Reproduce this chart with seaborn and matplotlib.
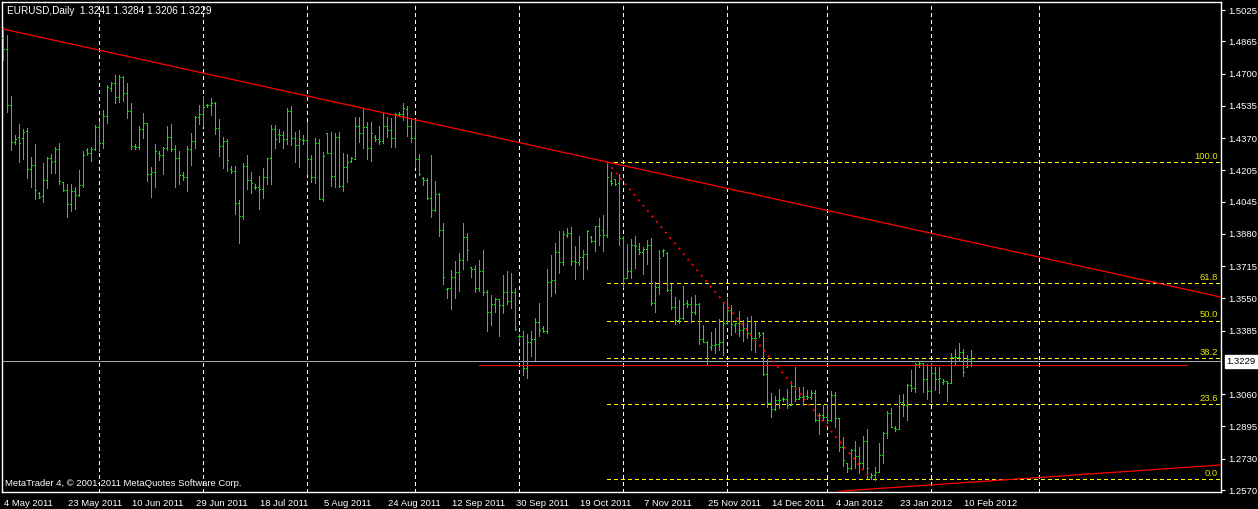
import numpy as np
import pandas as pd
import matplotlib
matplotlib.use("Agg")
import matplotlib.pyplot as plt
import matplotlib.transforms as mtransforms
import seaborn as sns

# ---------------- data (EURUSD daily OHLC) ----------------
opens = [1.4880, 1.4824, 1.4537, 1.4348, 1.4374, 1.4369, 1.4408, 1.4210, 1.4232, 1.4087,
         1.4074, 1.4154, 1.4268, 1.4251, 1.4313, 1.4144, 1.4103, 1.4033, 1.4098, 1.4081,
         1.4130, 1.4309, 1.4294, 1.4313, 1.4425, 1.4343, 1.4481, 1.4625, 1.4650, 1.4578,
         1.4684, 1.4599, 1.4507, 1.4331, 1.4326, 1.4415, 1.4445, 1.4185, 1.4195, 1.4292,
         1.4283, 1.4321, 1.4374, 1.4313, 1.4270, 1.4181, 1.4169, 1.4314, 1.4353, 1.4476,
         1.4491, 1.4537, 1.4537, 1.4548, 1.4420, 1.4328, 1.4357, 1.4212, 1.4200, 1.4036,
         1.3970, 1.4225, 1.4154, 1.4121, 1.4120, 1.4109, 1.4169, 1.4266, 1.4415, 1.4391,
         1.4384, 1.4364, 1.4507, 1.4369, 1.4333, 1.4360, 1.4360, 1.4261, 1.4173, 1.4343,
         1.4060, 1.4394, 1.4292, 1.4174, 1.4374, 1.4123, 1.4224, 1.4253, 1.4265, 1.4432,
         1.4394, 1.4425, 1.4317, 1.4374, 1.4364, 1.4357, 1.4430, 1.4410, 1.4369, 1.4493,
         1.4493, 1.4519, 1.4430, 1.4369, 1.4261, 1.4164, 1.4154, 1.4062, 1.4001, 1.4086,
         1.3898, 1.3598, 1.3602, 1.3658, 1.3683, 1.3745, 1.3862, 1.3709, 1.3700, 1.3602,
         1.3690, 1.3581, 1.3479, 1.3522, 1.3547, 1.3515, 1.3581, 1.3535, 1.3581, 1.3359,
         1.3356, 1.3196, 1.3325, 1.3341, 1.3428, 1.3397, 1.3383, 1.3632, 1.3643, 1.3786,
         1.3735, 1.3874, 1.3885, 1.3741, 1.3738, 1.3760, 1.3776, 1.3862, 1.3844, 1.3919,
         1.3900, 1.3873, 1.4152, 1.4159, 1.4139, 1.3857, 1.3654, 1.3688, 1.3821, 1.3804,
         1.3786, 1.3801, 1.3821, 1.3525, 1.3607, 1.3793, 1.3784, 1.3593, 1.3505, 1.3440,
         1.3452, 1.3525, 1.3520, 1.3480, 1.3520, 1.3342, 1.3329, 1.3303, 1.3313, 1.3317,
         1.3325, 1.3423, 1.3491, 1.3414, 1.3423, 1.3388, 1.3397, 1.3371, 1.3348, 1.3371,
         1.3371, 1.3162, 1.3013, 1.2983, 1.3031, 1.3037, 1.3037, 1.3005, 1.3102, 1.3037,
         1.3044, 1.3053, 1.3044, 1.3068, 1.2928, 1.2954, 1.2945, 1.2928, 1.3056, 1.2937,
         1.2792, 1.2707, 1.2681, 1.2775, 1.2744, 1.2710, 1.2819, 1.2638, 1.2645, 1.2664,
         1.2749, 1.2863, 1.2966, 1.2887, 1.2882, 1.3022, 1.3005, 1.3105, 1.3090, 1.3215,
         1.3218, 1.3140, 1.3077, 1.3167, 1.3140, 1.3124, 1.3129, 1.3116, 1.3249, 1.3249,
         1.3278, 1.3201, 1.3241]
highs = [1.4940, 1.4897, 1.4585, 1.4386, 1.4442, 1.4416, 1.4422, 1.4273, 1.4340, 1.4093,
         1.4241, 1.4273, 1.4287, 1.4326, 1.4345, 1.4147, 1.4135, 1.4135, 1.4120, 1.4207,
         1.4304, 1.4318, 1.4324, 1.4437, 1.4457, 1.4514, 1.4641, 1.4655, 1.4691, 1.4693,
         1.4688, 1.4652, 1.4549, 1.4340, 1.4430, 1.4497, 1.4445, 1.4222, 1.4340, 1.4304,
         1.4323, 1.4432, 1.4440, 1.4333, 1.4306, 1.4197, 1.4329, 1.4396, 1.4481, 1.4539,
         1.4585, 1.4544, 1.4573, 1.4553, 1.4468, 1.4375, 1.4365, 1.4227, 1.4227, 1.4053,
         1.4242, 1.4283, 1.4196, 1.4133, 1.4178, 1.4217, 1.4268, 1.4437, 1.4437, 1.4416,
         1.4406, 1.4524, 1.4534, 1.4401, 1.4411, 1.4384, 1.4452, 1.4283, 1.4370, 1.4365,
         1.4297, 1.4396, 1.4401, 1.4396, 1.4401, 1.4295, 1.4289, 1.4275, 1.4476, 1.4476,
         1.4519, 1.4452, 1.4452, 1.4384, 1.4432, 1.4500, 1.4476, 1.4474, 1.4498, 1.4503,
         1.4548, 1.4534, 1.4471, 1.4462, 1.4287, 1.4171, 1.4168, 1.4284, 1.4150, 1.4089,
         1.3936, 1.3605, 1.3695, 1.3741, 1.3782, 1.3936, 1.3885, 1.3712, 1.3721, 1.3746,
         1.3798, 1.3593, 1.3566, 1.3552, 1.3549, 1.3670, 1.3690, 1.3682, 1.3605, 1.3370,
         1.3383, 1.3368, 1.3383, 1.3450, 1.3527, 1.3409, 1.3700, 1.3772, 1.3834, 1.3895,
         1.3895, 1.3908, 1.3915, 1.3818, 1.3869, 1.3796, 1.3898, 1.3869, 1.3920, 1.3961,
         1.3978, 1.4244, 1.4198, 1.4162, 1.4186, 1.3869, 1.3828, 1.3852, 1.3869, 1.3832,
         1.3815, 1.3850, 1.3859, 1.3636, 1.3798, 1.3801, 1.3786, 1.3622, 1.3559, 1.3542,
         1.3614, 1.3540, 1.3556, 1.3568, 1.3525, 1.3414, 1.3332, 1.3377, 1.3399, 1.3445,
         1.3532, 1.3554, 1.3515, 1.3423, 1.3486, 1.3441, 1.3453, 1.3460, 1.3433, 1.3377,
         1.3380, 1.3240, 1.3065, 1.3051, 1.3087, 1.3044, 1.3087, 1.3128, 1.3197, 1.3095,
         1.3095, 1.3082, 1.3082, 1.3082, 1.2966, 1.3005, 1.3010, 1.3077, 1.3071, 1.2937,
         1.2843, 1.2710, 1.2780, 1.2819, 1.2790, 1.2848, 1.2880, 1.2655, 1.2686, 1.2809,
         1.2869, 1.2974, 1.2990, 1.2899, 1.3056, 1.3061, 1.3112, 1.3184, 1.3221, 1.3225,
         1.3218, 1.3215, 1.3218, 1.3197, 1.3201, 1.3136, 1.3129, 1.3269, 1.3291, 1.3320,
         1.3290, 1.3261, 1.3284]
lows = [1.4769, 1.4505, 1.4309, 1.4340, 1.4249, 1.4265, 1.4168, 1.4122, 1.4058, 1.4065,
        1.4045, 1.4116, 1.4193, 1.4193, 1.4135, 1.4098, 1.3968, 1.3999, 1.4007, 1.4075,
        1.4122, 1.4285, 1.4254, 1.4309, 1.4306, 1.4319, 1.4445, 1.4612, 1.4551, 1.4556,
        1.4560, 1.4473, 1.4314, 1.4316, 1.4316, 1.4372, 1.4151, 1.4070, 1.4122, 1.4258,
        1.4186, 1.4307, 1.4304, 1.4122, 1.4135, 1.4156, 1.4101, 1.4234, 1.4321, 1.4444,
        1.4433, 1.4531, 1.4488, 1.4393, 1.4280, 1.4219, 1.4202, 1.4193, 1.3983, 1.3835,
        1.3958, 1.4111, 1.4091, 1.4108, 1.4009, 1.4065, 1.4135, 1.4135, 1.4319, 1.4348,
        1.4319, 1.4341, 1.4336, 1.4249, 1.4224, 1.4341, 1.4185, 1.4145, 1.4142, 1.4058,
        1.4048, 1.4292, 1.4126, 1.4120, 1.4121, 1.4101, 1.4147, 1.4249, 1.4263, 1.4352,
        1.4321, 1.4263, 1.4253, 1.4355, 1.4341, 1.4347, 1.4375, 1.4326, 1.4326, 1.4485,
        1.4464, 1.4382, 1.4352, 1.4224, 1.4181, 1.4130, 1.4057, 1.3968, 1.3999, 1.3871,
        1.3625, 1.3554, 1.3498, 1.3554, 1.3590, 1.3702, 1.3746, 1.3661, 1.3585, 1.3590,
        1.3568, 1.3385, 1.3416, 1.3482, 1.3359, 1.3477, 1.3520, 1.3499, 1.3389, 1.3329,
        1.3158, 1.3145, 1.3255, 1.3235, 1.3359, 1.3380, 1.3373, 1.3564, 1.3579, 1.3682,
        1.3721, 1.3866, 1.3721, 1.3651, 1.3721, 1.3651, 1.3702, 1.3840, 1.3794, 1.3821,
        1.3794, 1.3862, 1.4130, 1.4130, 1.3823, 1.3607, 1.3653, 1.3653, 1.3707, 1.3777,
        1.3675, 1.3724, 1.3516, 1.3482, 1.3573, 1.3767, 1.3590, 1.3494, 1.3421, 1.3423,
        1.3446, 1.3505, 1.3428, 1.3469, 1.3319, 1.3327, 1.3209, 1.3286, 1.3269, 1.3284,
        1.3259, 1.3417, 1.3361, 1.3380, 1.3359, 1.3332, 1.3349, 1.3286, 1.3278, 1.3354,
        1.3158, 1.2996, 1.2945, 1.2979, 1.2988, 1.3027, 1.2991, 1.3005, 1.3027, 1.3037,
        1.3005, 1.3037, 1.3036, 1.2925, 1.2857, 1.2928, 1.2911, 1.2925, 1.2894, 1.2771,
        1.2695, 1.2664, 1.2676, 1.2681, 1.2655, 1.2676, 1.2625, 1.2625, 1.2621, 1.2664,
        1.2707, 1.2838, 1.2894, 1.2874, 1.2880, 1.2949, 1.2928, 1.3078, 1.3073, 1.3201,
        1.3073, 1.3036, 1.3022, 1.3082, 1.3065, 1.3112, 1.3027, 1.3116, 1.3209, 1.3230,
        1.3155, 1.3201, 1.3206]
closes = [1.4824, 1.4537, 1.4348, 1.4364, 1.4343, 1.4403, 1.4210, 1.4232, 1.4103, 1.4070,
          1.4154, 1.4268, 1.4249, 1.4313, 1.4152, 1.4103, 1.4033, 1.4098, 1.4081, 1.4130,
          1.4283, 1.4292, 1.4313, 1.4425, 1.4343, 1.4481, 1.4630, 1.4650, 1.4578, 1.4684,
          1.4599, 1.4507, 1.4331, 1.4326, 1.4415, 1.4445, 1.4185, 1.4195, 1.4304, 1.4283,
          1.4321, 1.4374, 1.4313, 1.4270, 1.4181, 1.4169, 1.4314, 1.4353, 1.4476, 1.4491,
          1.4531, 1.4537, 1.4548, 1.4420, 1.4328, 1.4357, 1.4256, 1.4200, 1.4036, 1.3970,
          1.4225, 1.4154, 1.4142, 1.4120, 1.4109, 1.4169, 1.4266, 1.4415, 1.4364, 1.4384,
          1.4364, 1.4507, 1.4369, 1.4333, 1.4364, 1.4360, 1.4261, 1.4173, 1.4343, 1.4060,
          1.4277, 1.4292, 1.4174, 1.4377, 1.4123, 1.4224, 1.4248, 1.4270, 1.4432, 1.4394,
          1.4425, 1.4317, 1.4394, 1.4364, 1.4357, 1.4430, 1.4410, 1.4369, 1.4493, 1.4493,
          1.4522, 1.4430, 1.4369, 1.4261, 1.4188, 1.4154, 1.4062, 1.4001, 1.4086, 1.3898,
          1.3658, 1.3602, 1.3658, 1.3683, 1.3745, 1.3862, 1.3796, 1.3700, 1.3602, 1.3690,
          1.3581, 1.3479, 1.3522, 1.3547, 1.3515, 1.3581, 1.3535, 1.3581, 1.3392, 1.3356,
          1.3196, 1.3325, 1.3341, 1.3428, 1.3387, 1.3383, 1.3632, 1.3643, 1.3786, 1.3735,
          1.3878, 1.3885, 1.3741, 1.3738, 1.3760, 1.3776, 1.3895, 1.3844, 1.3919, 1.3874,
          1.3873, 1.4169, 1.4139, 1.4135, 1.3857, 1.3654, 1.3688, 1.3821, 1.3820, 1.3786,
          1.3801, 1.3821, 1.3525, 1.3607, 1.3757, 1.3798, 1.3593, 1.3505, 1.3440, 1.3452,
          1.3520, 1.3520, 1.3480, 1.3520, 1.3342, 1.3329, 1.3232, 1.3313, 1.3317, 1.3325,
          1.3423, 1.3491, 1.3419, 1.3423, 1.3388, 1.3397, 1.3371, 1.3348, 1.3346, 1.3363,
          1.3162, 1.3013, 1.2983, 1.3031, 1.3031, 1.3037, 1.3005, 1.3102, 1.3037, 1.3044,
          1.3053, 1.3044, 1.3068, 1.2928, 1.2954, 1.2945, 1.2928, 1.3056, 1.2937, 1.2792,
          1.2724, 1.2681, 1.2775, 1.2744, 1.2710, 1.2819, 1.2681, 1.2645, 1.2664, 1.2749,
          1.2863, 1.2966, 1.2894, 1.2882, 1.3022, 1.3005, 1.3105, 1.3090, 1.3215, 1.3218,
          1.3140, 1.3077, 1.3167, 1.3140, 1.3145, 1.3129, 1.3116, 1.3249, 1.3249, 1.3278,
          1.3172, 1.3242, 1.3229]

date_labels = ["4 May 2011", "23 May 2011", "10 Jun 2011", "29 Jun 2011", "18 Jul 2011",
               "5 Aug 2011", "24 Aug 2011", "12 Sep 2011", "30 Sep 2011", "19 Oct 2011",
               "7 Nov 2011", "25 Nov 2011", "14 Dec 2011", "4 Jan 2012", "23 Jan 2012",
               "10 Feb 2012"]
label_every = 16
price_ticks = [1.5025, 1.4865, 1.4700, 1.4535, 1.4370, 1.4205, 1.4045, 1.3880,
               1.3715, 1.3550, 1.3385, 1.3060, 1.2895, 1.2730, 1.2570]
bid_price = 1.3229
title_text = "EURUSD,Daily  1.3241 1.3284 1.3206 1.3229"
copyright_text = "MetaTrader 4, \u00a9 2001-2011 MetaQuotes Software Corp."

grid_bars = [24, 50, 76, 103, 129, 155, 181, 206, 232, 259]
trend_bars = [0, 151]
trend_prices = [1.4928, 1.4248]
support_bars = [209, 300]
support_prices = [1.2564, 1.2692]
hline_bars = [119, 296]
hline_price = 1.3210
fib_bars = [151, 217]
fib_prices = [1.4248, 1.2626]
fib_levels = [0.0, 23.6, 38.2, 50.0, 61.8, 100.0]

# ---------------- style ----------------
sns.set_theme(style="dark", rc={"axes.facecolor": "black", "figure.facecolor": "black",
                                "axes.edgecolor": "white", "axes.grid": False})
plt.rcParams["font.family"] = ["Liberation Sans", "DejaVu Sans"]

GREEN = "#10e010"
RED = "#ff0000"
YELLOW = "#ffff00"
WHITE = "white"
FS = 6.8
PX = 0.72  # one pixel in points at 100 dpi
DASH = (0, (4, 3))

df = pd.DataFrame({"bar": np.arange(len(opens)), "open": opens, "high": highs,
                   "low": lows, "close": closes})

W, H = 1258, 509
fig = plt.figure(figsize=(W / 100, H / 100), dpi=100, facecolor="black")
ax = fig.add_axes([2 / W, 1 - 492 / H, (1221 - 2) / W, (492 - 2) / H])
ax.set_facecolor("black")
x_min, x_max = -0.25, 304.5
y_min, y_max = 1.2560, 1.5066
ax.set_xlim(x_min, x_max)
ax.set_ylim(y_min, y_max)

# vertical dashed grid
for gb in grid_bars:
    ax.axvline(gb, color=WHITE, lw=PX, ls=DASH, zorder=1, antialiased=False)

# fibonacci levels
fib_hi, fib_lo = fib_prices
for lvl in fib_levels:
    p = fib_lo + (fib_hi - fib_lo) * lvl / 100.0
    ax.hlines(p, fib_bars[0], x_max, color=YELLOW, lw=PX, linestyles=DASH, zorder=2,
              antialiased=False)
    ax.text(x_max - 0.7, p + 0.0007, f"{lvl:.1f}", color="#e6e600", fontsize=FS,
            ha="right", va="bottom", zorder=5)

# bid line
ax.axhline(bid_price, color="#a0a4ac", lw=PX, zorder=2, antialiased=False)

# OHLC bars
ax.vlines(df["bar"], df["low"], df["high"], color=GREEN, lw=PX, zorder=3, antialiased=False)
ax.hlines(df["open"], df["bar"] - 0.3, df["bar"], color=GREEN, lw=PX, zorder=3, antialiased=False)
ax.hlines(df["close"], df["bar"], df["bar"] + 0.3, color=GREEN, lw=PX, zorder=3, antialiased=False)

# trend lines (extended as rays to the right edge)
def ray(bars, prices, x_end, x_start=None):
    slope = (prices[1] - prices[0]) / (bars[1] - bars[0])
    xs0 = bars[0] if x_start is None else x_start
    return [xs0, x_end], [prices[0] + slope * (xs0 - bars[0]), prices[0] + slope * (x_end - bars[0])]

tx, ty = ray(trend_bars, trend_prices, x_max)
sns.lineplot(x=tx, y=ty, ax=ax, color=RED, lw=0.9, zorder=4)
sx, sy = ray(support_bars, support_prices, x_max, x_start=support_bars[0])
sns.lineplot(x=sx, y=sy, ax=ax, color=RED, lw=0.9, zorder=4)
ax.hlines(hline_price, hline_bars[0], hline_bars[1], color=RED, lw=PX, zorder=4,
          antialiased=False)
ax.plot(fib_bars, fib_prices, color=RED, lw=1.4, ls=(0, (1.0, 2.6)), zorder=4)

# axes frame
for s in ax.spines.values():
    s.set_color(WHITE)
    s.set_linewidth(1.0)
    s.set_visible(True)

# y axis on the right
ax.yaxis.tick_right()
ax.set_yticks(price_ticks)
ax.set_yticklabels([f"{p:.4f}" for p in price_ticks])
ax.tick_params(axis="y", colors=WHITE, labelcolor=WHITE, labelsize=FS, length=3,
               width=0.8, pad=2, direction="out", right=True, left=False)

# x axis labels
xt = list(range(0, label_every * len(date_labels), label_every))
ax.set_xticks(xt)
ax.set_xticklabels(date_labels)
ax.tick_params(axis="x", colors=WHITE, labelcolor=WHITE, labelsize=FS, length=4,
               width=0.8, pad=1, direction="out")
offset = mtransforms.ScaledTranslation(1.5 / 100, 0, fig.dpi_scale_trans)
for lbl in ax.get_xticklabels():
    lbl.set_horizontalalignment("left")
    lbl.set_transform(lbl.get_transform() + offset)
ax.set_xlabel("")
ax.set_ylabel("")

# current price box
ax.annotate(f"{bid_price:.4f}", xy=(1.0, bid_price),
            xycoords=mtransforms.blended_transform_factory(ax.transAxes, ax.transData),
            xytext=(4, 0), textcoords="offset points", ha="left", va="center",
            fontsize=FS, color="black",
            bbox=dict(boxstyle="square,pad=0.2", facecolor="white", edgecolor="white"))

# texts
fig.text(7 / W, 1 - 11 / H, title_text, color=WHITE, fontsize=FS + 0.4, ha="left", va="center")
fig.text(5 / W, 1 - 483 / H, copyright_text, color=WHITE, fontsize=FS, ha="left", va="center")

fig.savefig("out.png", dpi=100, facecolor="black")
